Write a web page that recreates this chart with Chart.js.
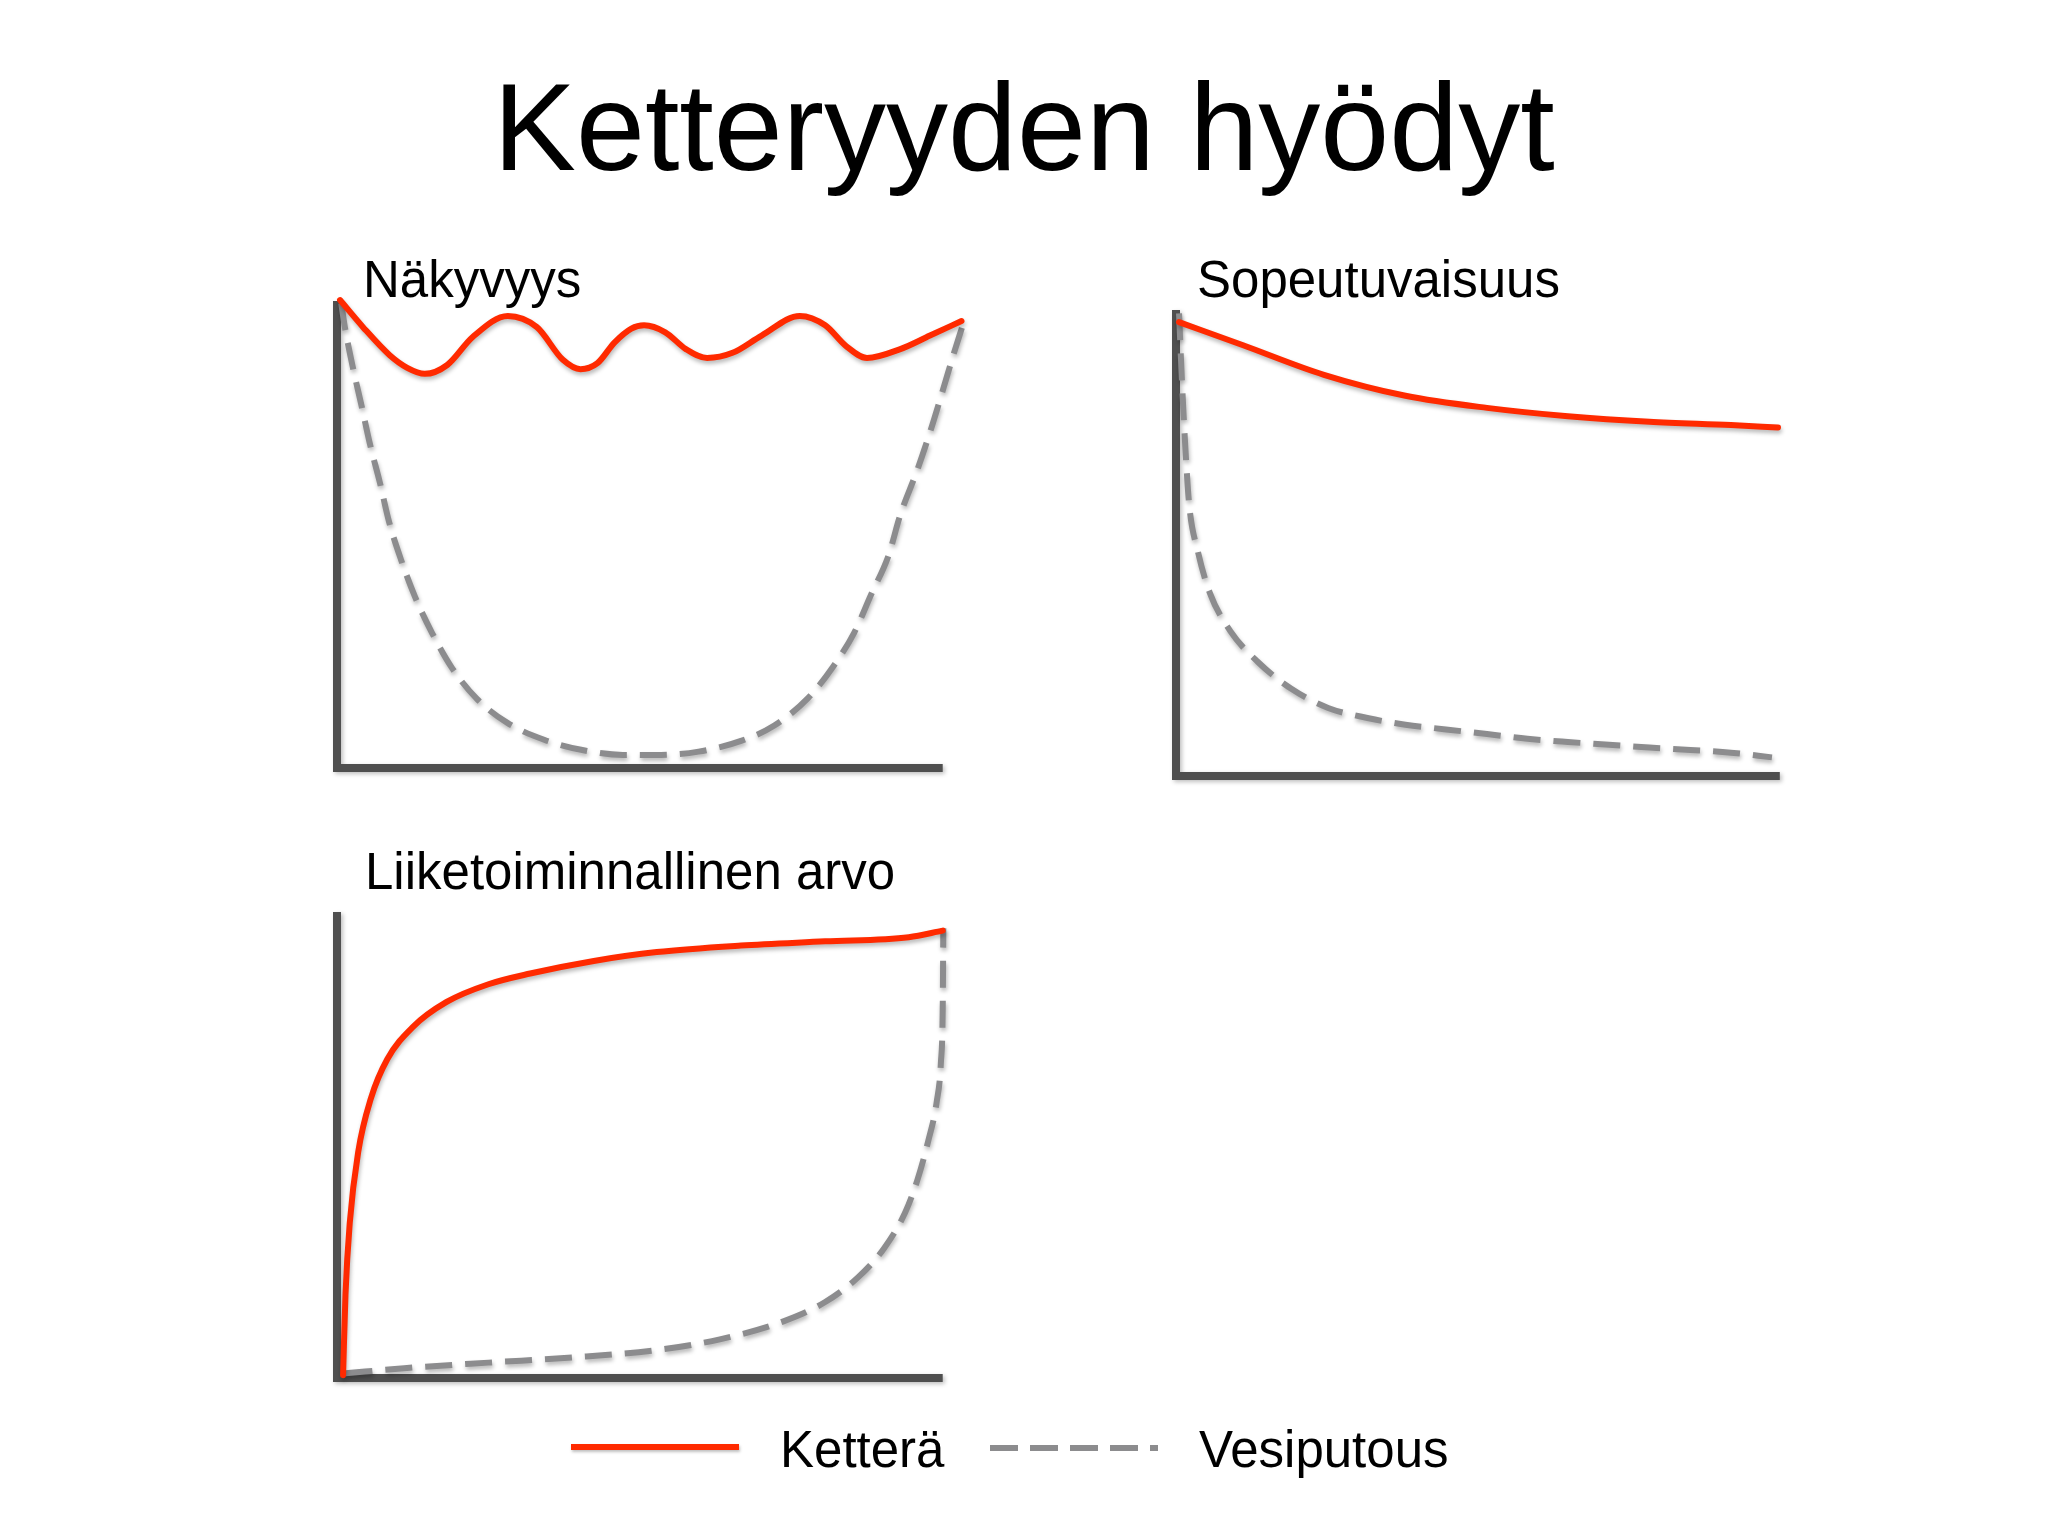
<!DOCTYPE html>
<html lang="fi">
<head>
<meta charset="utf-8">
<title>Ketteryyden hyödyt</title>
<script src="https://cdn.jsdelivr.net/npm/chart.js@4.4.1/dist/chart.umd.min.js"></script>
<style>
  body { margin: 0; background: #fff; width: 2048px; height: 1536px; position: relative; overflow: hidden;
         font-family: "Liberation Sans", Arial, Helvetica, sans-serif; color: #000; }
  .txt { position: absolute; line-height: 1; white-space: nowrap; }
  canvas { position: absolute; }
  .swatch { position: absolute; height: 6px; box-shadow: 1px 2px 3px rgba(0,0,0,0.25); }
</style>
</head>
<body>
<div class="txt" style="left:0; width:2048px; text-align:center; top:65px; font-size:124px;">Ketteryyden hyödyt</div>

<div class="txt" style="left:363px; top:254px; font-size:51px;">Näkyvyys</div>
<div class="txt" style="left:1197px; top:254px; font-size:51px;">Sopeutuvaisuus</div>
<div class="txt" style="left:365px; top:846px; font-size:51px;">Liiketoiminnallinen arvo</div>

<canvas id="nakyvyys"></canvas>
<canvas id="sopeutuvaisuus"></canvas>
<canvas id="liiketoiminta"></canvas>

<div class="swatch" style="left:571px; top:1444px; width:168px; background:#ff2a00;"></div>
<div class="txt" style="left:780px; top:1424px; font-size:51px;">Ketterä</div>
<div class="swatch" style="left:990px; top:1445px; width:168px; box-shadow:none;
     background:repeating-linear-gradient(to right, #8c8c8e 0 28px, transparent 28px 40px);"></div>
<div class="txt" style="left:1199px; top:1424px; font-size:51px;">Vesiputous</div>

<script>
const KETTERA_COLOR = '#ff2a00';
const VESIPUTOUS_COLOR = '#8c8c8e';
const AXIS_COLOR = '#4f4f4f';

// Näkyvyys (x-axis end = 100, y-axis top = 100)
const nakyvyysKetteraX = [0.5, 4.3, 8.7, 11.6, 14.5, 18.2, 22.4, 28.2, 33, 37.3, 40.2, 43, 45.8, 48.6, 50.7, 54.2, 57.6, 61.1, 65.3, 70.1, 76.4, 80.6, 84, 87.5, 93, 97.9, 103.1];
const nakyvyysKetteraY = [100.2, 94.4, 88.4, 85.7, 84.4, 86.3, 92.3, 96.8, 94.4, 87.4, 85.4, 86.7, 91.1, 94.1, 94.8, 93.3, 89.7, 87.8, 88.9, 92.6, 96.8, 94.8, 90.4, 87.8, 89.7, 92.6, 95.7];
const nakyvyysVesiputousX = [0.7, 1.3, 2.6, 4.1, 5.4, 7.1, 8.6, 10.6, 12.9, 15.7, 19, 23.1, 28.2, 34.3, 40.3, 47.2, 53.5, 59.7, 66.7, 72.2, 77.8, 81.9, 85.4, 88.2, 91, 93, 95.8, 97.9, 100, 101.7, 103.5];
const nakyvyysVesiputousY = [99.5, 94.4, 85.9, 77.3, 69.6, 61, 52.7, 44.5, 36.6, 28.9, 21.4, 14.8, 9.6, 6, 3.9, 2.8, 2.8, 3.5, 5.8, 9.1, 15, 21.7, 29, 37.2, 45.3, 54.2, 63.8, 71.9, 80.8, 88.2, 95.6];

// Sopeutuvaisuus
const sopeutuvaisuusKetteraX = [0.5, 11, 24.5, 38, 51.5, 64.9, 78.4, 91.9, 99.7];
const sopeutuvaisuusKetteraY = [97.4, 92.5, 86.1, 81.6, 79, 77.2, 76, 75.3, 74.8];
const sopeutuvaisuusVesiputousX = [0.5, 1, 1.6, 2.2, 3.6, 5.6, 9, 13.7, 19.1, 25.2, 31.9, 38, 44.7, 51.5, 58.2, 64.9, 71.7, 78.4, 85.2, 91.9, 98.7];
const sopeutuvaisuusVesiputousY = [99.3, 84.3, 69.3, 58, 48.3, 39.3, 31.1, 24.3, 18.7, 14.6, 12.4, 11, 10, 9, 8, 7.3, 6.7, 6.1, 5.6, 5, 4];

// Liiketoiminnallinen arvo
const liiketoimintaKetteraX = [1, 1.4, 2.1, 3.5, 5.6, 8.3, 12.5, 18.1, 25, 31.9, 42.4, 52.8, 66.7, 80.6, 94.4, 100];
const liiketoimintaKetteraY = [0.6, 17.9, 33.2, 48.5, 60, 68.4, 75.3, 80.7, 84.5, 86.8, 89.5, 91.4, 92.8, 93.7, 94.6, 96];
const liiketoimintaVesiputousX = [1.4, 11.1, 25, 38.9, 52.8, 63.2, 73.6, 80.6, 86.1, 90.3, 93.8, 95.8, 97.6, 99, 99.7, 100, 100.1];
const liiketoimintaVesiputousY = [1, 2.1, 3.3, 4.4, 6, 8.3, 12.1, 16.3, 21.7, 27.8, 35.5, 42.4, 50.8, 59.2, 67.7, 79.2, 96.5];

const PAD = 40;
const X_MAX = 105; // room for curves that run past the end of the x-axis

// axis lines drawn through the scales, under the curves
const axisPlugin = {
  id: 'axes',
  beforeDatasetsDraw(chart) {
    const { ctx, scales: { x, y } } = chart;
    const x0 = x.getPixelForValue(0), x1 = x.getPixelForValue(100);
    const y0 = y.getPixelForValue(0), y1 = y.getPixelForValue(100);
    ctx.save();
    ctx.strokeStyle = AXIS_COLOR;
    ctx.lineWidth = 8;
    ctx.shadowColor = 'rgba(0,0,0,0.25)';
    ctx.shadowBlur = 4;
    ctx.shadowOffsetX = 2;
    ctx.shadowOffsetY = 2;
    ctx.beginPath();
    ctx.moveTo(x0, y1);
    ctx.lineTo(x0, y0 + 4);
    ctx.moveTo(x0 - 4, y0);
    ctx.lineTo(x1, y0);
    ctx.stroke();
    ctx.restore();
  }
};

// soft drop shadow under the lines
const shadowPlugin = {
  id: 'lineShadow',
  beforeDatasetDraw(chart) {
    const ctx = chart.ctx;
    ctx.save();
    ctx.shadowColor = 'rgba(0,0,0,0.28)';
    ctx.shadowBlur = 4;
    ctx.shadowOffsetX = 1;
    ctx.shadowOffsetY = 3;
  },
  afterDatasetDraw(chart) {
    chart.ctx.restore();
  }
};

function toPoints(xs, ys) {
  return xs.map((x, i) => ({ x: x, y: ys[i] }));
}

// frame = [y-axis x, x-axis end x, y-axis top y, x-axis y] in page pixels
function makePanel(id, frame, ketteraX, ketteraY, vesiX, vesiY) {
  const canvas = document.getElementById(id);
  const [left, right, top, bottom] = frame;
  const areaW = Math.round((right - left) * X_MAX / 100);
  canvas.width = areaW + 2 * PAD;
  canvas.height = bottom - top + 2 * PAD;
  canvas.style.left = (left - PAD) + 'px';
  canvas.style.top = (top - PAD) + 'px';

  return new Chart(canvas.getContext('2d'), {
    type: 'line',
    data: {
      datasets: [
        {
          label: 'Ketterä',
          data: toPoints(ketteraX, ketteraY),
          borderColor: KETTERA_COLOR,
          borderWidth: 6,
          borderCapStyle: 'round',
          cubicInterpolationMode: 'monotone',
          pointRadius: 0,
          fill: false,
          clip: false
        },
        {
          label: 'Vesiputous',
          data: toPoints(vesiX, vesiY),
          borderColor: VESIPUTOUS_COLOR,
          borderWidth: 6,
          borderDash: [27, 13],
          cubicInterpolationMode: 'monotone',
          pointRadius: 0,
          fill: false,
          clip: false
        }
      ]
    },
    options: {
      responsive: false,
      animation: false,
      devicePixelRatio: 1,
      layout: { padding: PAD },
      plugins: { legend: { display: false }, tooltip: { enabled: false } },
      scales: {
        x: { type: 'linear', min: 0, max: X_MAX, display: false },
        y: { type: 'linear', min: 0, max: 100, display: false }
      }
    },
    plugins: [axisPlugin, shadowPlugin]
  });
}

makePanel('nakyvyys', [337, 943, 301, 768],
  nakyvyysKetteraX, nakyvyysKetteraY, nakyvyysVesiputousX, nakyvyysVesiputousY);
makePanel('sopeutuvaisuus', [1176, 1780, 310, 776],
  sopeutuvaisuusKetteraX, sopeutuvaisuusKetteraY, sopeutuvaisuusVesiputousX, sopeutuvaisuusVesiputousY);
makePanel('liiketoiminta', [337, 943, 912, 1378],
  liiketoimintaKetteraX, liiketoimintaKetteraY, liiketoimintaVesiputousX, liiketoimintaVesiputousY);
</script>
</body>
</html>
